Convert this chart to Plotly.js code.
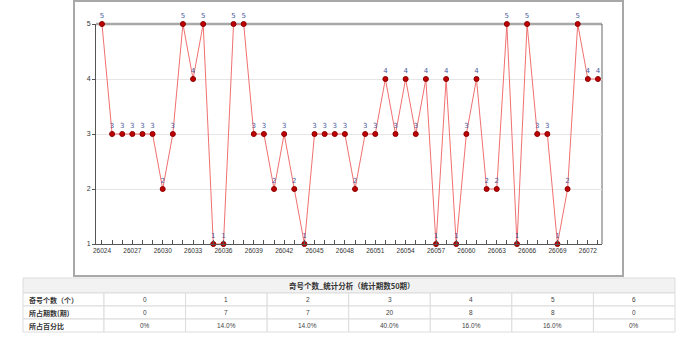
<!DOCTYPE html>
<html>
<head>
<meta charset="utf-8">
<script src="https://cdn.plot.ly/plotly-3.0.1.min.js"></script>
<style>html,body{margin:0;padding:0;background:#fff;}#chart{width:690px;height:339px;}</style>
</head>
<body>
<div id="chart"></div>
<script>
// Chart data
var periods = [26024,26025,26026,26027,26028,26029,26030,26031,26032,26033,
               26034,26035,26036,26037,26038,26039,26040,26041,26042,26043,
               26044,26045,26046,26047,26048,26049,26050,26051,26052,26053,
               26054,26055,26056,26057,26058,26059,26060,26061,26062,26063,
               26064,26065,26066,26067,26068,26069,26070,26071,26072,26073];
var oddCounts = [5,3,3,3,3,3,2,3,5,4,
                 5,1,1,5,5,3,3,2,3,2,
                 1,3,3,3,3,2,3,3,4,3,
                 4,3,4,1,4,1,3,4,2,2,
                 5,1,5,3,3,1,2,5,4,4];
var yTicks = [1,2,3,4,5];

// Table data
var tableTitle = '奇号个数_统计分析（统计期数50期）';
var rowLabels = ['奇号个数（个）','所占期数(期)','所占百分比'];
var countValues = ['0','1','2','3','4','5','6'];
var periodValues = ['0','7','7','20','8','8','0'];
var percentValues = ['0%','14.0%','14.0%','40.0%','16.0%','16.0%','0%'];

var W = 690, H = 339;
function px(x){return x/W;}
function py(y){return 1 - y/H;}

var lineTrace = {
  type:'scatter', mode:'lines+markers+text',
  x: periods, y: oddCounts,
  text: oddCounts.map(String),
  textposition:'top center',
  textfont:{family:'DejaVu Sans, sans-serif', size:7, color:'#4a5a9c'},
  line:{color:'#f07070', width:1},
  marker:{color:'#c00000', size:5, line:{color:'#8b0000', width:1}},
  cliponaxis:false,
  hoverinfo:'none'
};

var shapes = [
  // outer frame
  {type:'rect', xref:'paper', yref:'paper', x0:px(74), x1:px(623), y0:py(276), y1:py(1),
   line:{color:'#a8a8a8', width:2}, fillcolor:'rgba(0,0,0,0)', layer:'below'},
  // plot top border
  {type:'line', xref:'paper', yref:'paper', x0:px(96), x1:px(602), y0:py(24), y1:py(24),
   line:{color:'#a8a8a8', width:2.5}, layer:'below'},
  // plot right border
  {type:'line', xref:'paper', yref:'paper', x0:px(602), x1:px(602), y0:py(24), y1:py(244),
   line:{color:'#666666', width:1}, layer:'below'},
  // table title row
  {type:'rect', xref:'paper', yref:'paper', x0:px(23), x1:px(675), y0:py(293), y1:py(278),
   line:{color:'#dcdcdc', width:1}, fillcolor:'#f2f2f2', layer:'below'}
];
var annotations = [
  {xref:'paper', yref:'paper', x:px(352), y:py(285.5), xanchor:'center', yanchor:'middle',
   text:'<b>'+tableTitle+'</b>', showarrow:false,
   font:{family:'Noto Sans CJK SC, sans-serif', size:7.5, color:'#333333'}}
];

// table body cells
var tLeft = 23, tRight = 675, labelW = 81, rowTop = 293, rowH = 13;
var colW = (tRight - tLeft - labelW) / countValues.length;
var rows = [countValues, periodValues, percentValues];
var cellFont = {family:'Liberation Sans, sans-serif', size:6.5, color:'#444444'};
var labelFont = {family:'Noto Sans CJK SC, sans-serif', size:7, color:'#333333'};
for (var r = 0; r < rows.length; r++) {
  var y0 = rowTop + r*rowH, y1 = y0 + rowH;
  shapes.push({type:'rect', xref:'paper', yref:'paper', x0:px(tLeft), x1:px(tLeft+labelW),
    y0:py(y1), y1:py(y0), line:{color:'#dcdcdc', width:1}, fillcolor:'#ffffff', layer:'below'});
  annotations.push({xref:'paper', yref:'paper', x:px(tLeft+4), y:py((y0+y1)/2),
    xanchor:'left', yanchor:'middle', showarrow:false,
    text:'<b>'+rowLabels[r]+'</b>', font:labelFont});
  for (var c = 0; c < rows[r].length; c++) {
    var cx0 = tLeft + labelW + c*colW, cx1 = cx0 + colW;
    shapes.push({type:'rect', xref:'paper', yref:'paper', x0:px(cx0), x1:px(cx1),
      y0:py(y1), y1:py(y0), line:{color:'#dcdcdc', width:1}, fillcolor:'#ffffff', layer:'below'});
    annotations.push({xref:'paper', yref:'paper', x:px((cx0+cx1)/2), y:py((y0+y1)/2),
      xanchor:'center', yanchor:'middle', showarrow:false,
      text:rows[r][c], font:cellFont});
  }
}

var layout = {
  width: W, height: H,
  margin:{l:0, r:0, t:0, b:0},
  paper_bgcolor:'#ffffff', plot_bgcolor:'#ffffff',
  showlegend:false,
  xaxis:{
    domain:[px(96), px(602)],
    range:[26023.41, 26073.4],
    tickmode:'linear', tick0:26024, dtick:3,
    ticks:'inside', ticklen:4, tickcolor:'#555',
    minor:{dtick:1, tick0:26024, ticks:'inside', ticklen:4, tickcolor:'#555'},
    showgrid:false, zeroline:false,
    showline:true, linecolor:'#555', linewidth:1,
    tickfont:{family:'Liberation Sans, sans-serif', size:6.5, color:'#333'},
    tickformat:'d'
  },
  yaxis:{
    domain:[py(244), py(24)],
    range:[1,5],
    tickvals: yTicks,
    ticktext: yTicks.map(String),
    ticks:'outside', ticklen:3, tickcolor:'#555',
    showgrid:true, gridcolor:'#e6e6e6', gridwidth:1,
    zeroline:false,
    showline:true, linecolor:'#555', linewidth:1,
    tickfont:{family:'Liberation Sans, sans-serif', size:7, color:'#333'}
  },
  shapes: shapes,
  annotations: annotations
};

Plotly.newPlot('chart', [lineTrace], layout, {displayModeBar:false, staticPlot:true});
</script>
</body>
</html>
